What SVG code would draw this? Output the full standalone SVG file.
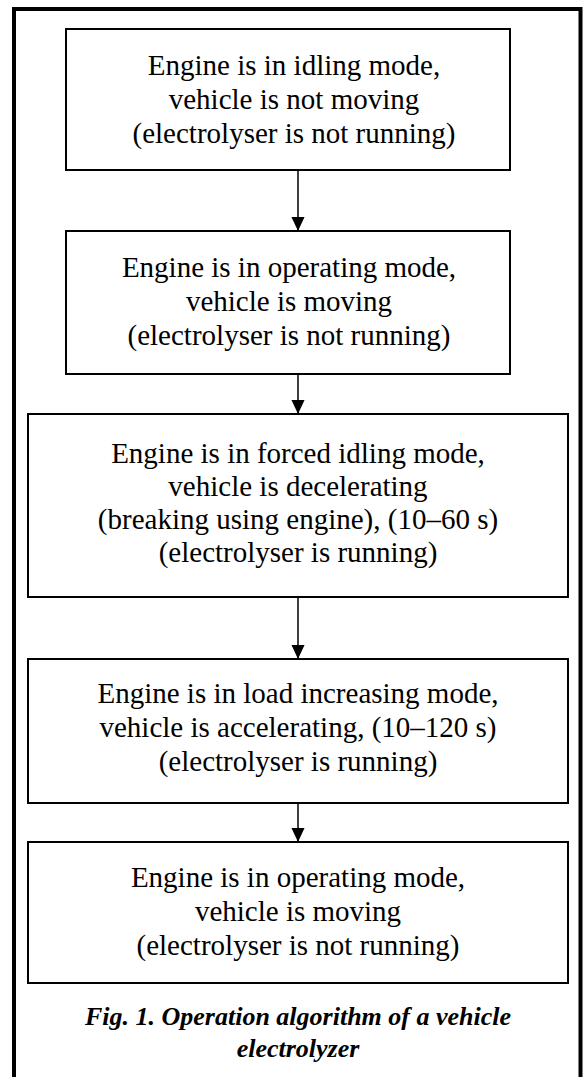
<svg xmlns="http://www.w3.org/2000/svg" width="583" height="1077" viewBox="0 0 583 1077">
  <style>
    .box { fill: #ffffff; stroke: #000000; stroke-width: 2; }
    .lbl { font-family: 'Liberation Serif', Tinos, 'Times New Roman', 'DejaVu Serif', serif; font-size: 29px; fill: #000000; text-anchor: middle; }
    .cap { font-family: 'Liberation Serif', Tinos, 'Times New Roman', 'DejaVu Serif', serif; font-size: 26px; font-weight: bold; font-style: italic; fill: #000000; text-anchor: middle; }
    .edge { stroke: #000000; stroke-width: 1.5; fill: none; }
    .frame { stroke: #000000; stroke-width: 4; fill: none; }
  </style>
  <defs>
    <marker id="arrow" markerWidth="14" markerHeight="15" refX="15" refY="7" orient="auto" markerUnits="userSpaceOnUse" viewBox="0 0 15 14">
      <path d="M0,0 L15,7 L0,14 Z" fill="#000000"/>
    </marker>
  </defs>
  <rect width="583" height="1077" fill="#ffffff"/>

  <!-- page frame (open at the bottom) -->
  <path class="frame" d="M14,1077 V9 H580.5 V1077"/>

  <!-- connectors -->
  <g id="connectors">
    <line class="edge" x1="298" y1="170" x2="298" y2="231" marker-end="url(#arrow)"/>
    <line class="edge" x1="298" y1="374" x2="298" y2="414" marker-end="url(#arrow)"/>
    <line class="edge" x1="298" y1="597" x2="298" y2="659" marker-end="url(#arrow)"/>
    <line class="edge" x1="298" y1="803" x2="298" y2="842" marker-end="url(#arrow)"/>
  </g>

  <g id="idling">
    <rect class="box" x="66" y="29" width="444" height="141"/>
    <text class="lbl" x="294" y="75">Engine is in idling mode,</text>
    <text class="lbl" x="294" y="109">vehicle is not moving</text>
    <text class="lbl" x="294" y="143">(electrolyser is not running)</text>
  </g>

  <g id="operating1">
    <rect class="box" x="66" y="231" width="444" height="143"/>
    <text class="lbl" x="289" y="277">Engine is in operating mode,</text>
    <text class="lbl" x="289" y="311">vehicle is moving</text>
    <text class="lbl" x="289" y="345">(electrolyser is not running)</text>
  </g>

  <g id="forced-idling">
    <rect class="box" x="28" y="414" width="540" height="183"/>
    <text class="lbl" x="298" y="463">Engine is in forced idling mode,</text>
    <text class="lbl" x="298" y="496">vehicle is decelerating</text>
    <text class="lbl" x="298" y="529">(breaking using engine), (10–60 s)</text>
    <text class="lbl" x="298" y="562">(electrolyser is running)</text>
  </g>

  <g id="load-increasing">
    <rect class="box" x="28" y="659" width="540" height="144"/>
    <text class="lbl" x="298" y="703">Engine is in load increasing mode,</text>
    <text class="lbl" x="298" y="737">vehicle is accelerating, (10–120 s)</text>
    <text class="lbl" x="298" y="771">(electrolyser is running)</text>
  </g>

  <g id="operating2">
    <rect class="box" x="28" y="842" width="540" height="141"/>
    <text class="lbl" x="298" y="887">Engine is in operating mode,</text>
    <text class="lbl" x="298" y="921">vehicle is moving</text>
    <text class="lbl" x="298" y="955">(electrolyser is not running)</text>
  </g>

  <g id="caption">
    <text class="cap" x="298" y="1025">Fig. 1. Operation algorithm of a vehicle</text>
    <text class="cap" x="298" y="1057">electrolyzer</text>
  </g>
</svg>
